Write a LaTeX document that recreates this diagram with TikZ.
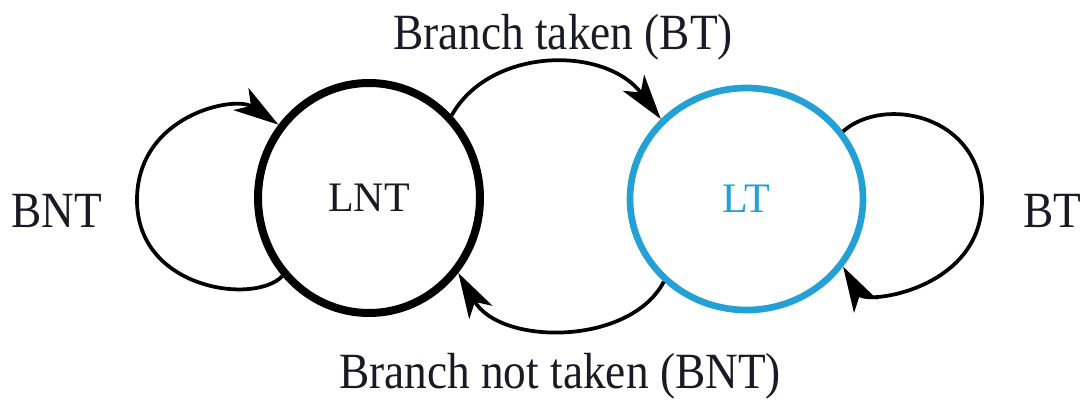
\documentclass[tikz,border=0pt]{standalone}
\usepackage{fontspec}
\setmainfont{Liberation Serif}
\usetikzlibrary{arrows.meta,shapes.geometric}
\definecolor{ltblue}{RGB}{35,160,212}
\definecolor{ink}{RGB}{26,26,36}
\begin{document}
\begin{tikzpicture}[x=0.75pt,y=-0.75pt,
  outerlabel/.style={text=ink,inner sep=0pt,anchor=base,font=\fontsize{34}{40}\selectfont},
  statenode/.style={ellipse,inner sep=0pt,font=\fontsize{31.5}{36}\selectfont},
  trans/.style={draw=black,line width=2.8pt,-{Stealth[length=34pt,width=20pt,inset=9pt]}}]
\useasboundingbox (0,0) rectangle (1081,400);
\node[statenode,draw=black,line width=6pt,text=ink,minimum width=166.5pt,minimum height=172.5pt] (LNT) at (369,198) {LNT};
\node[statenode,draw=ltblue,line width=5pt,text=ltblue,minimum width=174.75pt,minimum height=166.5pt] (LT) at (746.5,199) {LT};
\node[outerlabel] (lbt) at (563,49) {\scalebox{1}[1.12]{Branch taken (BT)}};
\node[outerlabel] (lbnt) at (560,388) {\scalebox{1}[1.12]{Branch not taken (BNT)}};
\node[outerlabel] (sbnt) at (57,227) {\scalebox{1}[1.12]{BNT}};
\node[outerlabel] (sbt) at (1052,227) {\scalebox{1}[1.12]{BT}};
% self loop on LNT
\draw[trans] (LNT.222) .. controls (255,305) and (137,290) .. (137,200) .. controls (137,115) and (235,95) .. (LNT.141);
% self loop on LT
\draw[trans] (LT.35) .. controls (884,95) and (982,115) .. (982,200) .. controls (982,290) and (865,305) .. (LT.325);
% LNT -> LT
\draw[trans] (LNT.45) .. controls (490,47) and (605,45) .. (LT.137);
% LT -> LNT
\draw[trans] (LT.225) .. controls (630,346) and (500,346) .. (LNT.320);
\end{tikzpicture}
\end{document}
